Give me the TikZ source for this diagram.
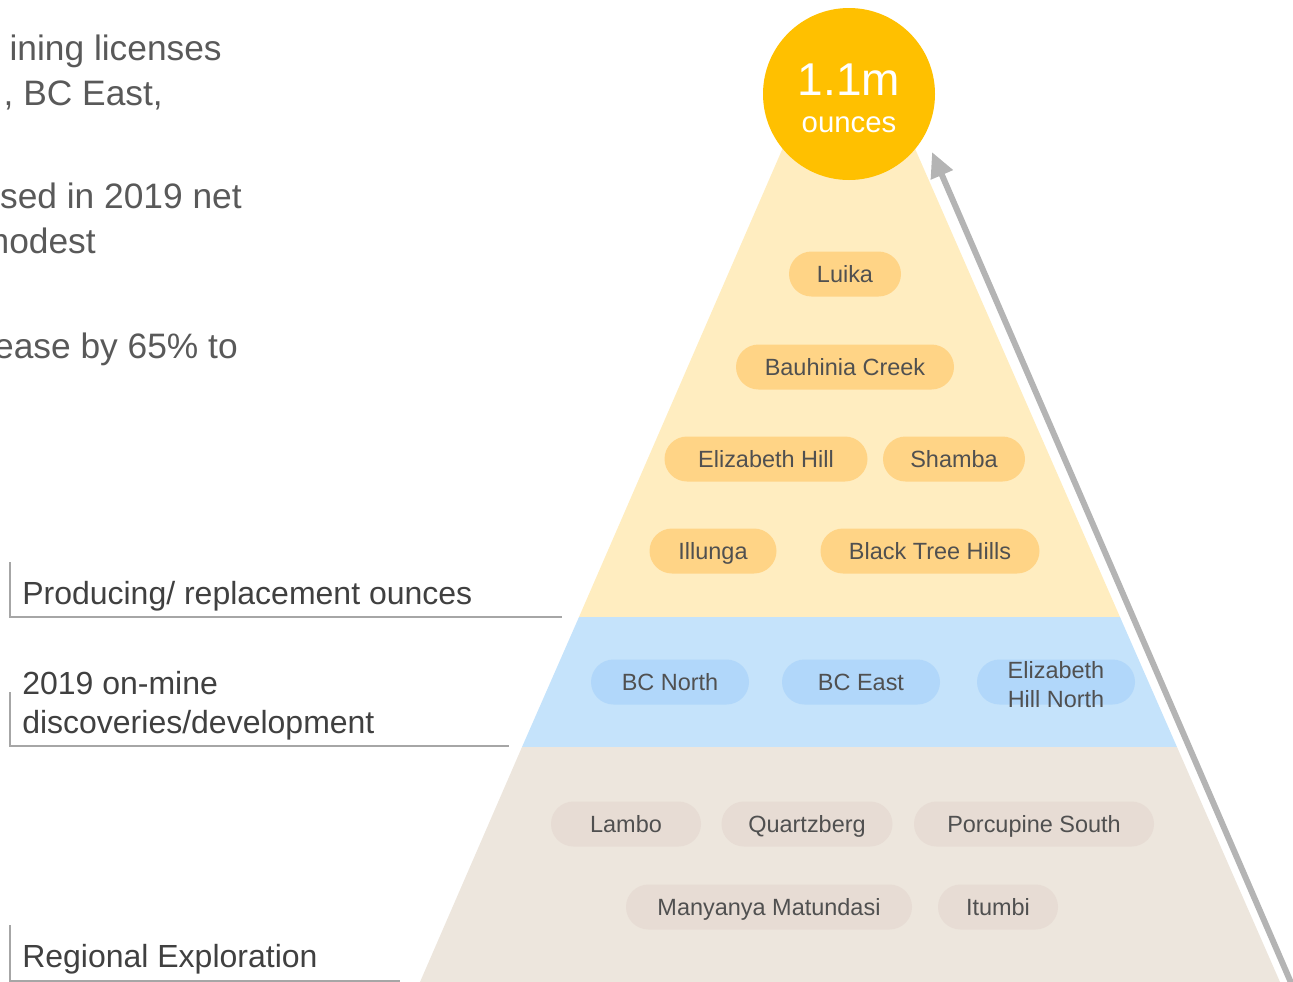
\documentclass[tikz,border=0pt]{standalone}
\usepackage{fontspec}
\setmainfont{Liberation Sans}
\usetikzlibrary{arrows.meta,positioning}

\definecolor{layerY}{HTML}{FFEDC0}
\definecolor{layerB}{HTML}{C5E3FB}
\definecolor{layerE}{HTML}{EDE6DD}
\definecolor{pillY}{HTML}{FFD486}
\definecolor{pillB}{HTML}{B1D7FA}
\definecolor{pillE}{HTML}{E7DCD4}
\definecolor{gold}{HTML}{FFC000}
\definecolor{arrowgray}{HTML}{B4B4B4}
\definecolor{rulegray}{HTML}{A6A6A6}
\definecolor{labelgray}{HTML}{404040}
\definecolor{pillgray}{HTML}{505050}
\definecolor{bodygray}{HTML}{595959}

\begin{document}
\begin{tikzpicture}[x=0.75pt, y=-0.75pt,
    pill/.style={rounded corners=16.9pt, minimum height=33.75pt, inner sep=0pt,
                 text height=12.6pt, text depth=0pt, text=pillgray,
                 font=\fontsize{17.6}{21}\selectfont},
    ypill/.style={pill, fill=pillY},
    bpill/.style={pill, fill=pillB},
    epill/.style={pill, fill=pillE},
    pilltext/.style={anchor=base, inner sep=0pt, text=pillgray, font=\fontsize{17.6}{21}\selectfont},
    sidelabel/.style={anchor=base west, inner sep=0pt, text=labelgray, font=\fontsize{24}{29}\selectfont},
    bodytext/.style={anchor=base east, inner sep=0pt, text=bodygray, font=\fontsize{26.5}{31}\selectfont},
    rule/.style={draw=rulegray, line width=0.9pt},
    growth/.style={draw=arrowgray, line width=4.5pt, -{Triangle[length=18.75pt, width=17pt]}}]
    \useasboundingbox (0,0) rectangle (1293,982);
    \clip (0,0) rectangle (1293,982);

    % pyramid layers
    \fill[layerY] (795,120) -- (902.5,120) -- (1120,617) -- (579,617) -- cycle;
    \fill[layerB] (579,617) -- (1120,617) -- (1177,747) -- (522,747) -- cycle;
    \fill[layerE] (522,747) -- (1177,747) -- (1280,982) -- (420,982) -- cycle;

    % top
    \node[circle, fill=gold, minimum size=129pt, inner sep=0pt] (total) at (849,94) {};
    \node[anchor=base, inner sep=0pt, text=white, font=\fontsize{34.5}{40}\selectfont] (totalnum) at (849,95) {1.1m};
    \node[anchor=base, inner sep=0pt, text=white, font=\fontsize{22}{26}\selectfont] (totalunit) at (849,132) {ounces};

    % producing / replacement
    \node[ypill, minimum width=84pt]     (luika)    at (845,274) {Luika};
    \node[ypill, minimum width=163.5pt]  (bauhinia) at (845,367) {Bauhinia Creek};
    \node[ypill, minimum width=152.25pt] (ehill)    at (766,459) {Elizabeth Hill};
    \node[ypill, minimum width=106.5pt]  (shamba)   at (954,459) {Shamba};
    \node[ypill, minimum width=95.25pt]  (illunga)  at (713,551) {Illunga};
    \node[ypill, minimum width=164.25pt] (btree)    at (930,551) {Black Tree Hills};

    % on-mine discoveries
    \node[bpill, minimum width=118.5pt] (bcnorth) at (670,682) {BC North};
    \node[bpill, minimum width=118.5pt] (bceast)  at (861,682) {BC East};
    \node[bpill, minimum width=118.5pt] (ehnorth) at (1056,682) {};
    \node[pilltext] (ehnorthA) at (1056,678) {Elizabeth};
    \node[pilltext] (ehnorthB) at (1056,707) {Hill North};

    % regional exploration
    \node[epill, minimum width=112.5pt]  (lambo)    at (626,824) {Lambo};
    \node[epill, minimum width=128.25pt] (quartz)   at (807,824) {Quartzberg};
    \node[epill, minimum width=180pt]    (porc)     at (1034,824) {Porcupine South};
    \node[epill, minimum width=214.5pt]  (manyanya) at (769,907) {Manyanya Matundasi};
    \node[epill, minimum width=90pt]     (itumbi)   at (998,907) {Itumbi};

    % growth arrow
    \coordinate (arrowfoot) at (1292,985);
    \coordinate (arrowtip)  at (932,152);
    \draw[growth] (arrowfoot) -- (arrowtip);

    % side labels
    \draw[rule] (10,562) |- (562,617);
    \draw[rule] (10,692) |- (509,746);
    \draw[rule] (10,925) |- (400,981);
    \node[sidelabel] (prodlabel) at (22,604) {Producing/ replacement ounces};
    \node[sidelabel] (minelabelA) at (22,694) {2019 on-mine};
    \node[sidelabel] (minelabelB) at (22,733) {discoveries/development};
    \node[sidelabel] (reglabel)  at (22,967) {Regional Exploration};

    % body text, cut at the left edge
    \node[bodytext] (bodyA) at (222,60)  {ining licenses};
    \node[bodytext] (bodyB) at (163,105) {, BC East,};
    \node[bodytext] (bodyC) at (242,208) {sed in 2019 net};
    \node[bodytext] (bodyD) at (96,253)  {modest};
    \node[bodytext] (bodyE) at (238,358) {ease by 65\% to};
\end{tikzpicture}
\end{document}
